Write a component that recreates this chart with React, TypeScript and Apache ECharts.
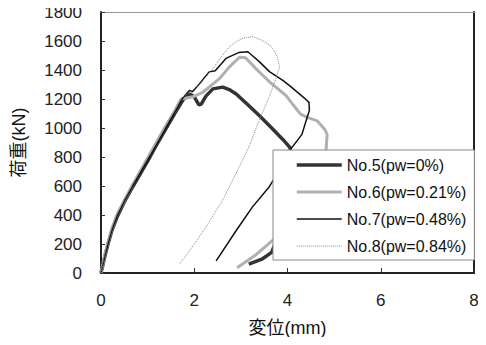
import React, { useEffect, useRef } from "react";
import * as echarts from "echarts";

const seriesNames = ["No.5(pw=0%)", "No.6(pw=0.21%)", "No.7(pw=0.48%)", "No.8(pw=0.84%)"];

const xTicks = [0, 2, 4, 6, 8];
const yTicks = [0, 200, 400, 600, 800, 1000, 1200, 1400, 1600, 1800];

// [displacement mm, load kN]
const no5: [number, number][] = [
  [0, 0], [0.04, 55], [0.09, 125], [0.15, 200], [0.24, 300], [0.35, 390], [0.5, 490], [0.69, 600], [0.87, 700],
  [1.05, 800], [1.22, 900], [1.4, 1000], [1.58, 1100], [1.76, 1195], [1.9, 1235], [2.0, 1215],
  [2.1, 1160], [2.15, 1165], [2.25, 1220], [2.4, 1270], [2.61, 1282], [2.75, 1265], [2.9, 1235],
  [3.15, 1160], [3.4, 1084], [3.65, 1003], [3.9, 921], [4.06, 863],
  [4.02, 700], [3.96, 520], [3.88, 370], [3.78, 240], [3.66, 142], [3.45, 95], [3.17, 61],
];

const no6: [number, number][] = [
  [0, 0], [0.04, 60], [0.08, 125], [0.14, 200], [0.23, 300], [0.34, 400], [0.5, 500], [0.67, 605], [1.03, 810], [1.38, 1010], [1.55, 1100],
  [1.72, 1200], [1.97, 1215], [2.18, 1245], [2.54, 1340], [2.75, 1420], [2.97, 1488], [3.1, 1485],
  [3.35, 1400], [3.62, 1317], [3.97, 1223], [4.12, 1160], [4.28, 1096], [4.45, 1070],
  [4.64, 1049], [4.8, 990], [4.85, 956], [4.83, 860], [4.7, 650], [4.5, 480], [4.2, 360],
  [3.95, 290], [3.68, 225], [3.3, 120], [2.92, 37],
];

const no7: [number, number][] = [
  [0, 0], [0.04, 55], [0.09, 125], [0.15, 200], [0.24, 300], [0.35, 395], [0.5, 495], [0.68, 600], [1.04, 800], [1.39, 1000], [1.57, 1100],
  [1.75, 1205], [1.9, 1260], [1.96, 1250], [2.1, 1300], [2.32, 1387], [2.45, 1395], [2.68, 1480],
  [2.95, 1520], [3.15, 1526], [3.28, 1490], [3.4, 1456], [3.62, 1387], [3.9, 1328], [4.05, 1290],
  [4.21, 1247], [4.35, 1210], [4.46, 1177], [4.47, 1120], [4.42, 1073], [4.31, 956], [4.06, 851],
  [3.85, 720], [3.61, 595], [3.25, 456], [2.9, 293], [2.47, 84],
];

const no8: [number, number][] = [
  [0, 0], [0.04, 65], [0.08, 130], [0.14, 210], [0.23, 310], [0.33, 400], [0.49, 500], [0.66, 600], [1.02, 805], [1.37, 1005], [1.55, 1110],
  [1.7, 1200], [1.95, 1260], [2.11, 1300], [2.4, 1410], [2.6, 1500], [2.75, 1560], [2.9, 1596],
  [3.05, 1620], [3.26, 1630], [3.45, 1605], [3.62, 1572], [3.72, 1530], [3.79, 1479], [3.83, 1420],
  [3.75, 1340], [3.62, 1223], [3.4, 1061], [3.18, 874], [2.9, 689], [2.61, 502], [2.25, 316],
  [1.9, 153], [1.68, 61],
];

const FONT = "'Liberation Sans', 'Noto Sans CJK JP', sans-serif";

const styles = [
  { color: "#333", width: 3.5, type: "solid" },
  { color: "#b0b0b0", width: 3, type: "solid" },
  { color: "#111", width: 1.5, type: "solid" },
  { color: "#888", width: 1, type: "dotted" },
];

export default function App() {
  const ref = useRef<HTMLDivElement>(null);
  useEffect(() => {
    if (!ref.current) return;
    const chart = echarts.init(ref.current, undefined, { renderer: "svg" });
    const datasets = [no5, no6, no7, no8];
    const series = datasets.map((data, i) => ({
      name: seriesNames[i],
      type: "line",
      data,
      symbol: "none",
      smooth: false,
      xAxisIndex: 0,
      yAxisIndex: 0,
      itemStyle: { color: styles[i].color },
      lineStyle: { ...styles[i] },
    }));
    chart.setOption({
      animation: false,
      backgroundColor: "#fff",
      textStyle: { fontFamily: FONT },
      grid: { left: 101, right: 12, top: 12, bottom: 72, containLabel: false },
      legend: {
        orient: "vertical",
        left: 273,
        top: 150,
        backgroundColor: "#fff",
        borderColor: "#888",
        borderWidth: 1,
        borderRadius: 0,
        padding: [6, 8, 5, 22],
        itemWidth: 45,
        itemHeight: 14,
        itemGap: 9,
        itemStyle: { opacity: 0 },
        textStyle: { fontSize: 16, color: "#111", lineHeight: 18, fontFamily: FONT },
        data: seriesNames.map((name, i) => ({
          name,
          lineStyle: { color: styles[i].color, width: styles[i].width, type: styles[i].type },
          itemStyle: { opacity: 0 },
        })),
      },
      xAxis: [
        {
          type: "value",
          min: xTicks[0],
          max: xTicks[xTicks.length - 1],
          interval: 2,
          name: "変位(mm)",
          nameLocation: "middle",
          nameGap: 46,
          nameTextStyle: { fontSize: 18, color: "#111", fontFamily: FONT },
          axisLine: { show: true, lineStyle: { color: "#222", width: 2 } },
          axisTick: { show: true, inside: true, length: 5, lineStyle: { color: "#333" } },
          axisLabel: { fontSize: 17, color: "#222", margin: 19, fontFamily: FONT },
          splitLine: { show: false },
        },
        {
          type: "value",
          position: "top",
          min: 0,
          max: 8,
          interval: 2,
          axisLine: { show: true, onZero: false, lineStyle: { color: "#999", width: 1 } },
          axisTick: { show: false },
          axisLabel: { show: false },
          splitLine: { show: false },
        },
      ],
      yAxis: [
        {
          type: "value",
          min: yTicks[0],
          max: yTicks[yTicks.length - 1],
          interval: 200,
          name: "荷重(kN)",
          nameLocation: "middle",
          nameGap: 73,
          nameRotate: 90,
          nameTextStyle: { fontSize: 18, color: "#111", fontFamily: FONT },
          axisLine: { show: true, lineStyle: { color: "#222", width: 2 } },
          axisTick: { show: true, inside: true, length: 4, lineStyle: { color: "#333" } },
          axisLabel: {
            fontSize: 17,
            color: "#222",
            margin: 19,
            fontFamily: FONT,
            formatter: (v: number) => String(v),
          },
          splitLine: { show: false },
        },
        {
          type: "value",
          position: "right",
          min: 0,
          max: 1800,
          interval: 200,
          axisLine: { show: true, onZero: false, lineStyle: { color: "#222", width: 2 } },
          axisTick: { show: false },
          axisLabel: { show: false },
          splitLine: { show: false },
        },
      ],
      series,
    });
    return () => chart.dispose();
  }, []);
  return <div ref={ref} style={{ width: 486, height: 345, margin: -8 }} />;
}
